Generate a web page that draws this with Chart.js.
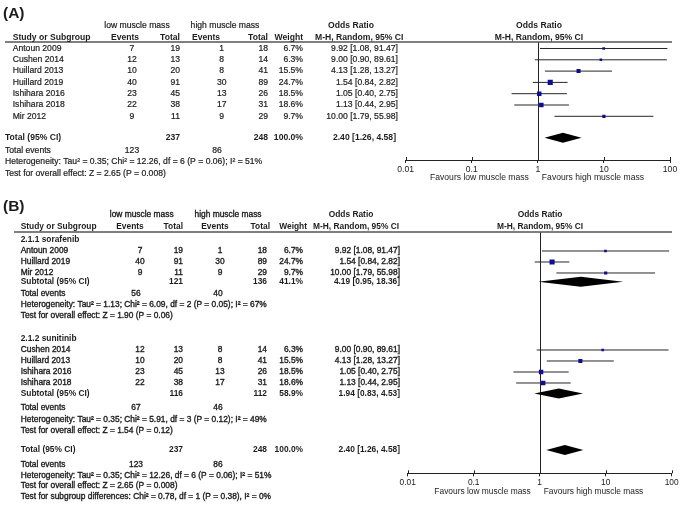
<!DOCTYPE html>
<html><head><meta charset="utf-8">
<script src="https://cdn.jsdelivr.net/npm/chart.js@4.4.1/dist/chart.umd.min.js"></script>
<style>
html,body{margin:0;padding:0;background:#fff;}
#wrap{position:relative;width:685px;height:508px;background:#fff;}
canvas{position:absolute;left:0;top:0;}
</style></head><body>
<div id="wrap"><canvas id="cA" width="685" height="508"></canvas><canvas id="cB" width="685" height="508"></canvas></div>
<script>
// ---------------- DATA ----------------
const studies    = ['Antoun 2009','Cushen 2014','Huillard 2013','Huillard 2019','Ishihara 2016','Ishihara 2018','Mir 2012'];
const lowEvents  = [7, 12, 10, 40, 23, 22, 9];
const lowTotal   = [19, 13, 20, 91, 45, 38, 11];
const highEvents = [1, 8, 8, 30, 13, 17, 9];
const highTotal  = [18, 14, 41, 89, 26, 31, 29];
const weights    = [6.7, 6.3, 15.5, 24.7, 18.5, 18.6, 9.7];
const oddsRatio  = [9.92, 9.00, 4.13, 1.54, 1.05, 1.13, 10.00];
const ciLow      = [1.08, 0.90, 1.28, 0.84, 0.40, 0.44, 1.79];
const ciHigh     = [91.47, 89.61, 13.27, 2.82, 2.75, 2.95, 55.98];

// pooled total
const totalOR = [2.40, 1.26, 4.58];
const totalN  = [237, 248];
const totalEv = [123, 86];
const totalHet  = 'Heterogeneity: Tau² = 0.35; Chi² = 12.26, df = 6 (P = 0.06); I² = 51%';
const totalTest = 'Test for overall effect: Z = 2.65 (P = 0.008)';

// subgroups (panel B)
const subgroupNames   = ['2.1.1 sorafenib', '2.1.2 sunitinib'];
const subgroupStudies = [[0, 3, 6], [1, 2, 4, 5]];
const subgroupOR      = [[4.19, 0.95, 18.36], [1.94, 0.83, 4.53]];
const subgroupN       = [[121, 136], [116, 112]];
const subgroupWeight  = [41.1, 58.9];
const subgroupEv      = [[56, 40], [67, 46]];
const subgroupHet     = ['Heterogeneity: Tau² = 1.13; Chi² = 6.09, df = 2 (P = 0.05); I² = 67%',
                         'Heterogeneity: Tau² = 0.35; Chi² = 5.91, df = 3 (P = 0.12); I² = 49%'];
const subgroupTest    = ['Test for overall effect: Z = 1.90 (P = 0.06)',
                         'Test for overall effect: Z = 1.54 (P = 0.12)'];
const subgroupDiff    = 'Test for subgroup differences: Chi² = 0.78, df = 1 (P = 0.38), I² = 0%';

const tickValues = [0.01, 0.1, 1, 10, 100];

// ---------------- LAYOUT ----------------
const FONT = '"Liberation Sans", Arial, Helvetica, sans-serif';
const INK = '#1c1c1c';
const AXH = 20;

const layoutA = {
  id: 'cA', title: '(A)', left: 405.7, right: 670, top: 42, bottom: 160,
  ymin: 0.425, ymax: 10.867, fs: 8.6, weight: 0.2,
  cols: {name: 12.7, sum: 5, ev1: 132, tot1: 180, ev2: 221.7, tot2: 268, wt: 303, orR: 398,
         hEv1: 125, hEv2: 206, low: 137, high: 225, orHdr: 351, mh: 315, teEv1: 132, teEv2: 217, plotHdr: 539,
         study: 12.7, hTot2: 268, hWt: 303, rule: 5},
  yTitle: -2.1, yHdr1: -1.05, yHdr2: 0
};
const layoutB = {
  id: 'cB', title: '(B)', left: 407.7, right: 671.7, top: 232, bottom: 473.3,
  ymin: -0.727, ymax: 21.209, fs: 8.4, weight: 0.35,
  cols: {name: 20.7, sum: 20.7, ev1: 140, tot1: 183, ev2: 220, tot2: 267, wt: 303, orR: 400,
         hEv1: 130, hEv2: 215, low: 141.7, high: 228, orHdr: 351, mh: 313, teEv1: 136, teEv2: 218, plotHdr: 540,
         study: 20.7, hTot2: 270, hWt: 307, rule: 14},
  yTitle: -3.03, yHdr1: -2.3, yHdr2: -1.245
};
// row positions (in row units) for panel A
const rowPosA = {studies: [1,2,3,4,5,6,7], total: 8.9, te: 10.05, het: 11.05, test: 12.05};
// row positions for panel B
const rowPosB = {
  heading: [0, 9],
  studies: [[1,2,3],[10,11,12,13]],
  subtotal: [3.8, 13.95],
  te: [4.85, 15.27], het: [5.85, 16.32], test: [6.88, 17.36],
  total: 19.1, tTe: 20.45, tHet: 21.41, tTest: 22.36, diff: 23.32
};

function fmtOR(o, l, h) { return o.toFixed(2) + ' [' + l.toFixed(2) + ', ' + h.toFixed(2) + ']'; }

function makeChart(L, ciRows, diamonds, textFn) {
  const datasets = [];
  ciRows.forEach(r => datasets.push({
    data: [{x: ciLow[r.i], y: r.y}, {x: ciHigh[r.i], y: r.y}],
    showLine: true, borderColor: '#262626', borderWidth: 1, pointRadius: 0, pointHoverRadius: 0, order: 2
  }));
  datasets.push({
    data: ciRows.map(r => ({x: oddsRatio[r.i], y: r.y})),
    pointStyle: 'rect', pointRadius: ciRows.map(r => Math.sqrt(weights[r.i] / 1.9)),
    backgroundColor: '#0d0d9c', borderWidth: 0, order: 1
  });
  const panelPlugin = {
    id: 'panel' + L.id,
    beforeDatasetsDraw(chart) {
      const ctx = chart.ctx, ca = chart.chartArea, xs = chart.scales.x;
      ctx.save();
      ctx.strokeStyle = '#222'; ctx.lineWidth = 1;
      const x1 = Math.round(xs.getPixelForValue(1)) + 0.5;
      ctx.beginPath(); ctx.moveTo(x1, ca.top); ctx.lineTo(x1, ca.bottom); ctx.stroke();
      ctx.restore();
    },
    afterDraw(chart) {
      const ctx = chart.ctx, ca = chart.chartArea, xs = chart.scales.x, ys = chart.scales.y;
      const Y = v => ys.getPixelForValue(v);
      const T = (s, x, v, align, bold, size, plain) => {
        ctx.font = (bold ? 'bold ' : '') + (size || L.fs) + 'px ' + FONT;
        ctx.textAlign = align || 'left'; ctx.textBaseline = 'middle'; ctx.fillStyle = INK;
        const yy = typeof v === 'number' ? Y(v) : v.px;
        ctx.fillText(s, x, yy);
        if (!bold && !plain && L.weight > 0) { ctx.strokeStyle = INK; ctx.lineWidth = L.weight; ctx.strokeText(s, x, yy); }
      };
      ctx.save();
      const c = L.cols;
      // header rule
      ctx.strokeStyle = '#555'; ctx.lineWidth = 1.4;
      ctx.beginPath(); ctx.moveTo(c.rule, ca.top); ctx.lineTo(672, ca.top); ctx.stroke();
      // upward tick marks
      ctx.strokeStyle = '#222'; ctx.lineWidth = 1;
      tickValues.forEach(v => {
        const px = Math.round(xs.getPixelForValue(v)) + 0.5;
        ctx.beginPath(); ctx.moveTo(px, ca.bottom - 3); ctx.lineTo(px, ca.bottom); ctx.stroke();
      });
      // diamonds
      ctx.fillStyle = '#000';
      diamonds.forEach(d => {
        const yc = Y(d.y);
        ctx.beginPath();
        ctx.moveTo(xs.getPixelForValue(d.v[1]), yc);
        ctx.lineTo(xs.getPixelForValue(d.v[0]), yc - 5);
        ctx.lineTo(xs.getPixelForValue(d.v[2]), yc);
        ctx.lineTo(xs.getPixelForValue(d.v[0]), yc + 5);
        ctx.closePath(); ctx.fill();
      });
      // title + headers
      T(L.title, 3, L.yTitle, 'left', true, 15.5);
      T('low muscle mass', c.low, L.yHdr1, 'center', false);
      T('high muscle mass', c.high, L.yHdr1, 'center', false);
      T('Odds Ratio', c.orHdr, L.yHdr1, 'center', true);
      T('Odds Ratio', c.plotHdr, L.yHdr1, 'center', true);
      T('Study or Subgroup', c.study, L.yHdr2, 'left', true);
      T('Events', c.hEv1, L.yHdr2, 'center', true);
      T('Total', c.tot1, L.yHdr2, 'right', true);
      T('Events', c.hEv2, L.yHdr2, 'center', true);
      T('Total', c.hTot2, L.yHdr2, 'right', true);
      T('Weight', c.hWt, L.yHdr2, 'right', true);
      T('M-H, Random, 95% CI', c.mh, L.yHdr2, 'left', true);
      T('M-H, Random, 95% CI', c.plotHdr, L.yHdr2, 'center', true);
      // favours
      const fx = xs.getPixelForValue(1);
      T('Favours low muscle mass', fx - 9, {px: ca.bottom + 18}, 'right', false, null, true);
      T('Favours high muscle mass', fx + 4, {px: ca.bottom + 18}, 'left', false, null, true);
      textFn(T, c);
      ctx.restore();
    }
  };
  return new Chart(document.getElementById(L.id), {
    type: 'scatter',
    data: {datasets},
    options: {
      responsive: false, animation: false, events: [],
      layout: {padding: {left: L.left, right: 685 - L.right, top: L.top, bottom: 508 - L.bottom - AXH}},
      plugins: {legend: {display: false}, tooltip: {enabled: false}},
      scales: {
        x: {
          type: 'logarithmic', min: 0.01, max: 100,
          afterBuildTicks: s => { s.ticks = tickValues.map(v => ({value: v})); },
          afterFit: s => { s.height = AXH; },
          ticks: {callback: v => String(v), font: {size: L.fs, family: FONT}, color: '#222', padding: 1, maxRotation: 0, autoSkip: false},
          grid: {drawOnChartArea: false, drawTicks: true, tickLength: 3, color: '#222', tickWidth: 1},
          border: {display: true, color: '#222', width: 1}
        },
        y: {type: 'linear', reverse: true, min: L.ymin, max: L.ymax, display: false}
      }
    },
    plugins: [panelPlugin]
  });
}

// ---------- Panel A ----------
const ciA = studies.map((s, i) => ({i, y: rowPosA.studies[i]}));
makeChart(layoutA, ciA, [{y: rowPosA.total, v: totalOR}], (T, c) => {
  studies.forEach((s, i) => {
    const y = rowPosA.studies[i];
    T(s, c.name, y, 'left');
    T(String(lowEvents[i]), c.ev1, y, 'center');
    T(String(lowTotal[i]), c.tot1, y, 'right');
    T(String(highEvents[i]), c.ev2, y, 'center');
    T(String(highTotal[i]), c.tot2, y, 'right');
    T(weights[i].toFixed(1) + '%', c.wt, y, 'right');
    T(fmtOR(oddsRatio[i], ciLow[i], ciHigh[i]), c.orR, y, 'right');
  });
  T('Total (95% CI)', c.sum, rowPosA.total, 'left', true);
  T(String(totalN[0]), c.tot1, rowPosA.total, 'right', true);
  T(String(totalN[1]), c.tot2, rowPosA.total, 'right', true);
  T('100.0%', c.wt, rowPosA.total, 'right', true);
  T(fmtOR(...totalOR), c.orR - 2, rowPosA.total, 'right', true);
  T('Total events', c.sum, rowPosA.te, 'left');
  T(String(totalEv[0]), c.teEv1, rowPosA.te, 'center');
  T(String(totalEv[1]), c.teEv2, rowPosA.te, 'center');
  T(totalHet, c.sum, rowPosA.het, 'left');
  T(totalTest, c.sum, rowPosA.test, 'left');
});

// ---------- Panel B ----------
const ciB = [];
subgroupStudies.forEach((idxs, g) => idxs.forEach((i, k) => ciB.push({i, y: rowPosB.studies[g][k]})));
const diamondsB = subgroupOR.map((v, g) => ({y: rowPosB.subtotal[g], v}));
diamondsB.push({y: rowPosB.total, v: totalOR});
makeChart(layoutB, ciB, diamondsB, (T, c) => {
  subgroupStudies.forEach((idxs, g) => {
    T(subgroupNames[g], c.name, rowPosB.heading[g], 'left', true);
    idxs.forEach((i, k) => {
      const y = rowPosB.studies[g][k];
      T(studies[i], c.name, y, 'left');
      T(String(lowEvents[i]), c.ev1, y, 'center');
      T(String(lowTotal[i]), c.tot1, y, 'right');
      T(String(highEvents[i]), c.ev2, y, 'center');
      T(String(highTotal[i]), c.tot2, y, 'right');
      T(weights[i].toFixed(1) + '%', c.wt, y, 'right');
      T(fmtOR(oddsRatio[i], ciLow[i], ciHigh[i]), c.orR, y, 'right');
    });
    const ys = rowPosB.subtotal[g];
    T('Subtotal (95% CI)', c.name, ys, 'left', true);
    T(String(subgroupN[g][0]), c.tot1, ys, 'right', true);
    T(String(subgroupN[g][1]), c.tot2, ys, 'right', true);
    T(subgroupWeight[g].toFixed(1) + '%', c.wt, ys, 'right', true);
    T(fmtOR(...subgroupOR[g]), c.orR, ys, 'right', true);
    T('Total events', c.name, rowPosB.te[g], 'left');
    T(String(subgroupEv[g][0]), c.teEv1, rowPosB.te[g], 'center');
    T(String(subgroupEv[g][1]), c.teEv2, rowPosB.te[g], 'center');
    T(subgroupHet[g], c.name, rowPosB.het[g], 'left');
    T(subgroupTest[g], c.name, rowPosB.test[g], 'left');
  });
  T('Total (95% CI)', c.name, rowPosB.total, 'left', true);
  T(String(totalN[0]), c.tot1, rowPosB.total, 'right', true);
  T(String(totalN[1]), c.tot2, rowPosB.total, 'right', true);
  T('100.0%', c.wt, rowPosB.total, 'right', true);
  T(fmtOR(...totalOR), c.orR, rowPosB.total, 'right', true);
  T('Total events', c.name, rowPosB.tTe, 'left');
  T(String(totalEv[0]), c.teEv1, rowPosB.tTe, 'center');
  T(String(totalEv[1]), c.teEv2, rowPosB.tTe, 'center');
  T(totalHet, c.name, rowPosB.tHet, 'left');
  T(totalTest, c.name, rowPosB.tTest, 'left');
  T(subgroupDiff, c.name, rowPosB.diff, 'left');
});
</script>
</body></html>
